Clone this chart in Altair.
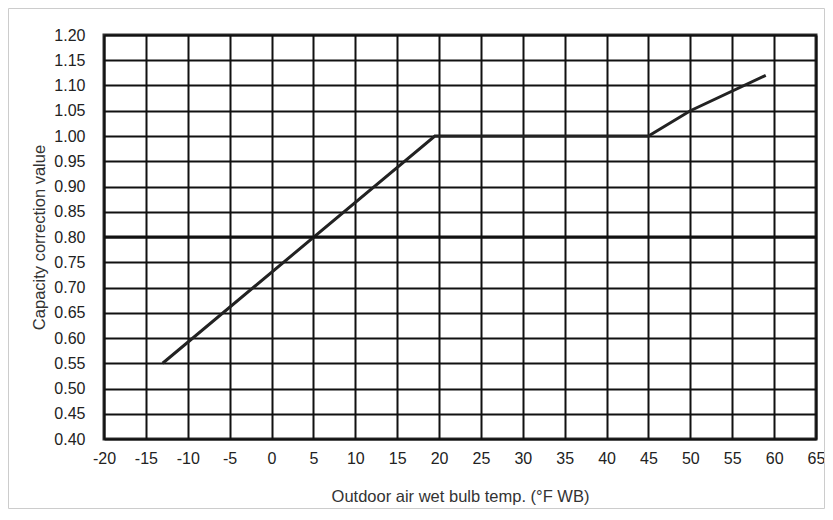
import altair as alt
import pandas as pd

# Data
temp_f = [-13, 19.5, 45, 50, 59]
correction = [0.55, 1.00, 1.00, 1.05, 1.12]

x_ticks = list(range(-20, 70, 5))
y_ticks = [round(0.40 + 0.05 * i, 2) for i in range(17)]
emphasis_levels = [0.80]

df = pd.DataFrame({"temp": temp_f, "value": correction})
df_rule = pd.DataFrame({"level": emphasis_levels})

FONT = "Liberation Sans"
LABEL_SIZE = 16
TITLE_SIZE = 16.5

y_scale = alt.Scale(domain=[0.40, 1.20], nice=False, zero=False)

x_axis = alt.Axis(
    values=x_ticks,
    labelExpr="'' + datum.value",
    title="Outdoor air wet bulb temp. (°F WB)",
    grid=True,
    gridColor="#111111",
    gridWidth=2,
    domain=False,
    ticks=False,
    labelPadding=11,
    labelFont=FONT,
    labelFontSize=LABEL_SIZE,
    labelColor="#222222",
    labelFlush=False,
    labelOverlap=False,
    labelBound=False,
    titleFont=FONT,
    titleFontSize=TITLE_SIZE,
    titleFontWeight="normal",
    titleColor="#333333",
    titleY=57,
    titleBaseline="middle",
)
y_axis = alt.Axis(
    values=y_ticks,
    format=".2f",
    title="Capacity correction value",
    grid=True,
    gridColor="#111111",
    gridWidth=2,
    domain=False,
    ticks=False,
    labelPadding=19,
    labelFont=FONT,
    labelFontSize=LABEL_SIZE,
    labelColor="#222222",
    labelFlush=False,
    labelOverlap=False,
    labelBound=False,
    titleFont=FONT,
    titleFontSize=TITLE_SIZE,
    titleFontWeight="normal",
    titleColor="#333333",
    titleX=-65,
    titleBaseline="middle",
)

line = alt.Chart(df).mark_line(color="#222222", strokeWidth=3, strokeCap="butt").encode(
    x=alt.X("temp:Q", scale=alt.Scale(domain=[-20, 65], nice=False, zero=False), axis=x_axis),
    y=alt.Y("value:Q", scale=y_scale, axis=y_axis),
)

rule = alt.Chart(df_rule).mark_rule(color="#111111", strokeWidth=3).encode(
    y=alt.Y("level:Q", scale=y_scale, axis=y_axis)
)

frame = alt.Chart(df_rule).mark_rect(
    fill=None, stroke="#cccccc", strokeWidth=1, clip=False
).encode(
    x=alt.value(-95.5), x2=alt.value(720.5), y=alt.value(-26.5), y2=alt.value(473.5)
)

chart = (
    alt.layer(line, rule, frame)
    .properties(
        width=712,
        height=404,
        autosize=alt.AutoSizeParams(type="none"),
        padding={"left": 96, "top": 27, "right": 9, "bottom": 70},
        background="white",
    )
    .configure_view(stroke="#333333", strokeWidth=3)
)

chart.save("out.html", embed_options={"renderer": "svg", "actions": False})
